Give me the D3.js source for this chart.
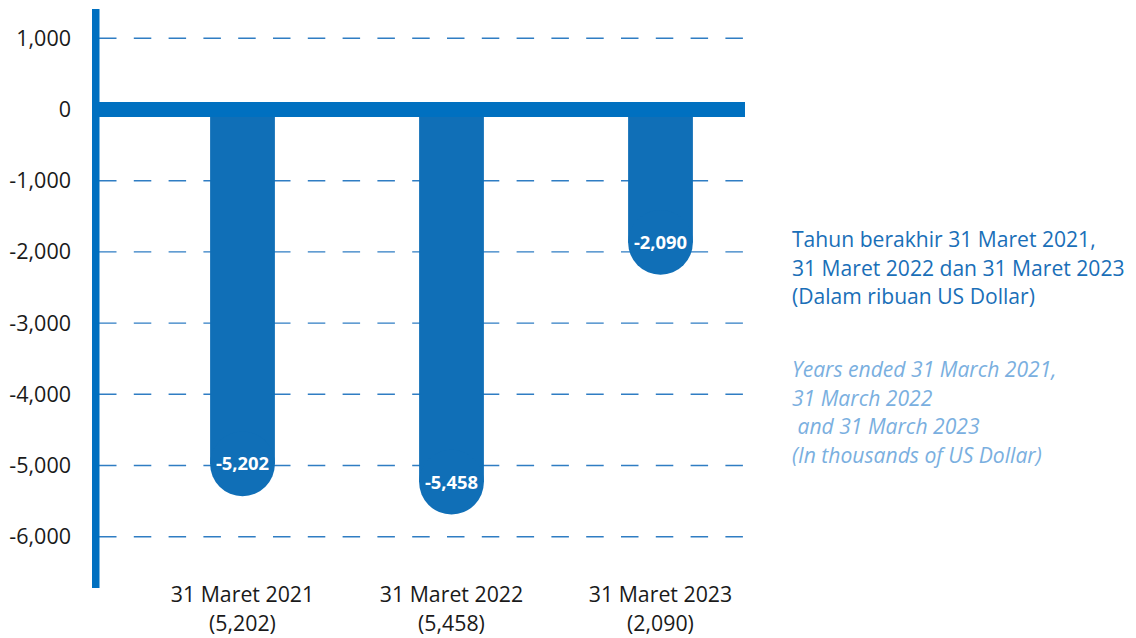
<!DOCTYPE html>
<html>
<head>
<meta charset="utf-8">
<script src="https://cdn.jsdelivr.net/npm/d3@7"></script>
<style>
  body { margin: 0; background: #fff; }
  svg { font-family: "Open Sans", Lato, sans-serif; }
</style>
</head>
<body>
<div id="chart"></div>
<script>
// data
const categories = ["31 Maret 2021", "31 Maret 2022", "31 Maret 2023"];
const values = [-5202, -5458, -2090];
const valueLabels = ["(5,202)", "(5,458)", "(2,090)"];
const yTicks = [1000, 0, -1000, -2000, -3000, -4000, -5000, -6000];
const noteId = ["Tahun berakhir 31 Maret 2021,", "31 Maret 2022 dan 31 Maret 2023", "(Dalam ribuan US Dollar)"];
const noteEn = ["Years ended 31 March 2021,", "31 March 2022", " and 31 March 2023", "(In thousands of US Dollar)"];

const width = 1136, height = 638;

const svg = d3.select("#chart").append("svg")
    .attr("width", width)
    .attr("height", height);

const y = d3.scaleLinear()
    .domain([1000, -6000])
    .range([38.3, 536.7]);

const x = d3.scaleBand()
    .domain(categories)
    .range([138, 765])
    .paddingInner(0.69)
    .paddingOuter(0.345);

// plain hyphen instead of the unicode minus
const fmt = d => d3.format(",")(d).replace("\u2212", "-");

// dashed gridlines
svg.selectAll(".grid")
    .data(yTicks.filter(d => d !== 0))
    .enter()
    .append("line")
    .attr("x1", 99)
    .attr("x2", 745)
    .attr("y1", d => y(d))
    .attr("y2", d => y(d))
    .attr("stroke", "#2f7dc3")
    .attr("stroke-width", 1.4)
    .attr("stroke-dasharray", "17.5,17.3");

// y tick labels
svg.selectAll(".ytick")
    .data(yTicks)
    .enter()
    .append("text")
    .attr("x", 71)
    .attr("y", d => y(d))
    .attr("dy", "0.35em")
    .attr("text-anchor", "end")
    .style("font-size", "21.5px")
    .style("fill", "#1a1a1a")
    .text(d => fmt(d));

// bars with rounded ends
const r = x.bandwidth() / 2;
const bars = svg.selectAll(".bar")
    .data(values)
    .enter()
    .append("g");

bars.append("rect")
    .attr("x", (d, i) => x(categories[i]))
    .attr("y", y(0))
    .attr("width", x.bandwidth())
    .attr("height", d => y(d) - 16 - y(0))
    .attr("fill", "#106fb7");

bars.append("circle")
    .attr("cx", (d, i) => x(categories[i]) + r)
    .attr("cy", d => y(d) - 16)
    .attr("r", r)
    .attr("fill", "#106fb7");

bars.append("text")
    .attr("x", (d, i) => x(categories[i]) + r)
    .attr("y", d => y(d) - 16)
    .attr("dy", "0.35em")
    .attr("text-anchor", "middle")
    .style("font-size", "18.4px")
    .style("font-weight", "bold")
    .style("fill", "#fff")
    .text(d => fmt(d));

// axis line and zero bar
svg.append("rect")
    .attr("x", 92)
    .attr("y", 9)
    .attr("width", 7.5)
    .attr("height", 579)
    .attr("fill", "#0070c0");

svg.append("rect")
    .attr("x", 92)
    .attr("y", y(0) - 7.5)
    .attr("width", 653)
    .attr("height", 15)
    .attr("fill", "#0070c0");

// category labels
const xl = svg.selectAll(".xlabel")
    .data(categories)
    .enter()
    .append("text")
    .attr("text-anchor", "middle")
    .style("font-size", "21.3px")
    .style("fill", "#1a1a1a");

xl.append("tspan")
    .attr("x", d => x(d) + r)
    .attr("y", 602)
    .text(d => d);

xl.append("tspan")
    .attr("x", d => x(d) + r)
    .attr("y", 631)
    .text((d, i) => valueLabels[i]);

// side notes
svg.append("text")
    .style("font-size", "21.1px")
    .style("fill", "#1a6fb8")
    .selectAll("tspan")
    .data(noteId)
    .enter()
    .append("tspan")
    .attr("x", 792)
    .attr("y", (d, i) => 247 + i * 28.6)
    .text(d => d);

svg.append("text")
    .style("font-size", "21.1px")
    .style("font-style", "italic")
    .style("fill", "#7aafe0")
    .attr("xml:space", "preserve")
    .selectAll("tspan")
    .data(noteEn)
    .enter()
    .append("tspan")
    .attr("x", 792)
    .attr("y", (d, i) => 377 + i * 28.6)
    .style("white-space", "pre")
    .text(d => d);
</script>
</body>
</html>
